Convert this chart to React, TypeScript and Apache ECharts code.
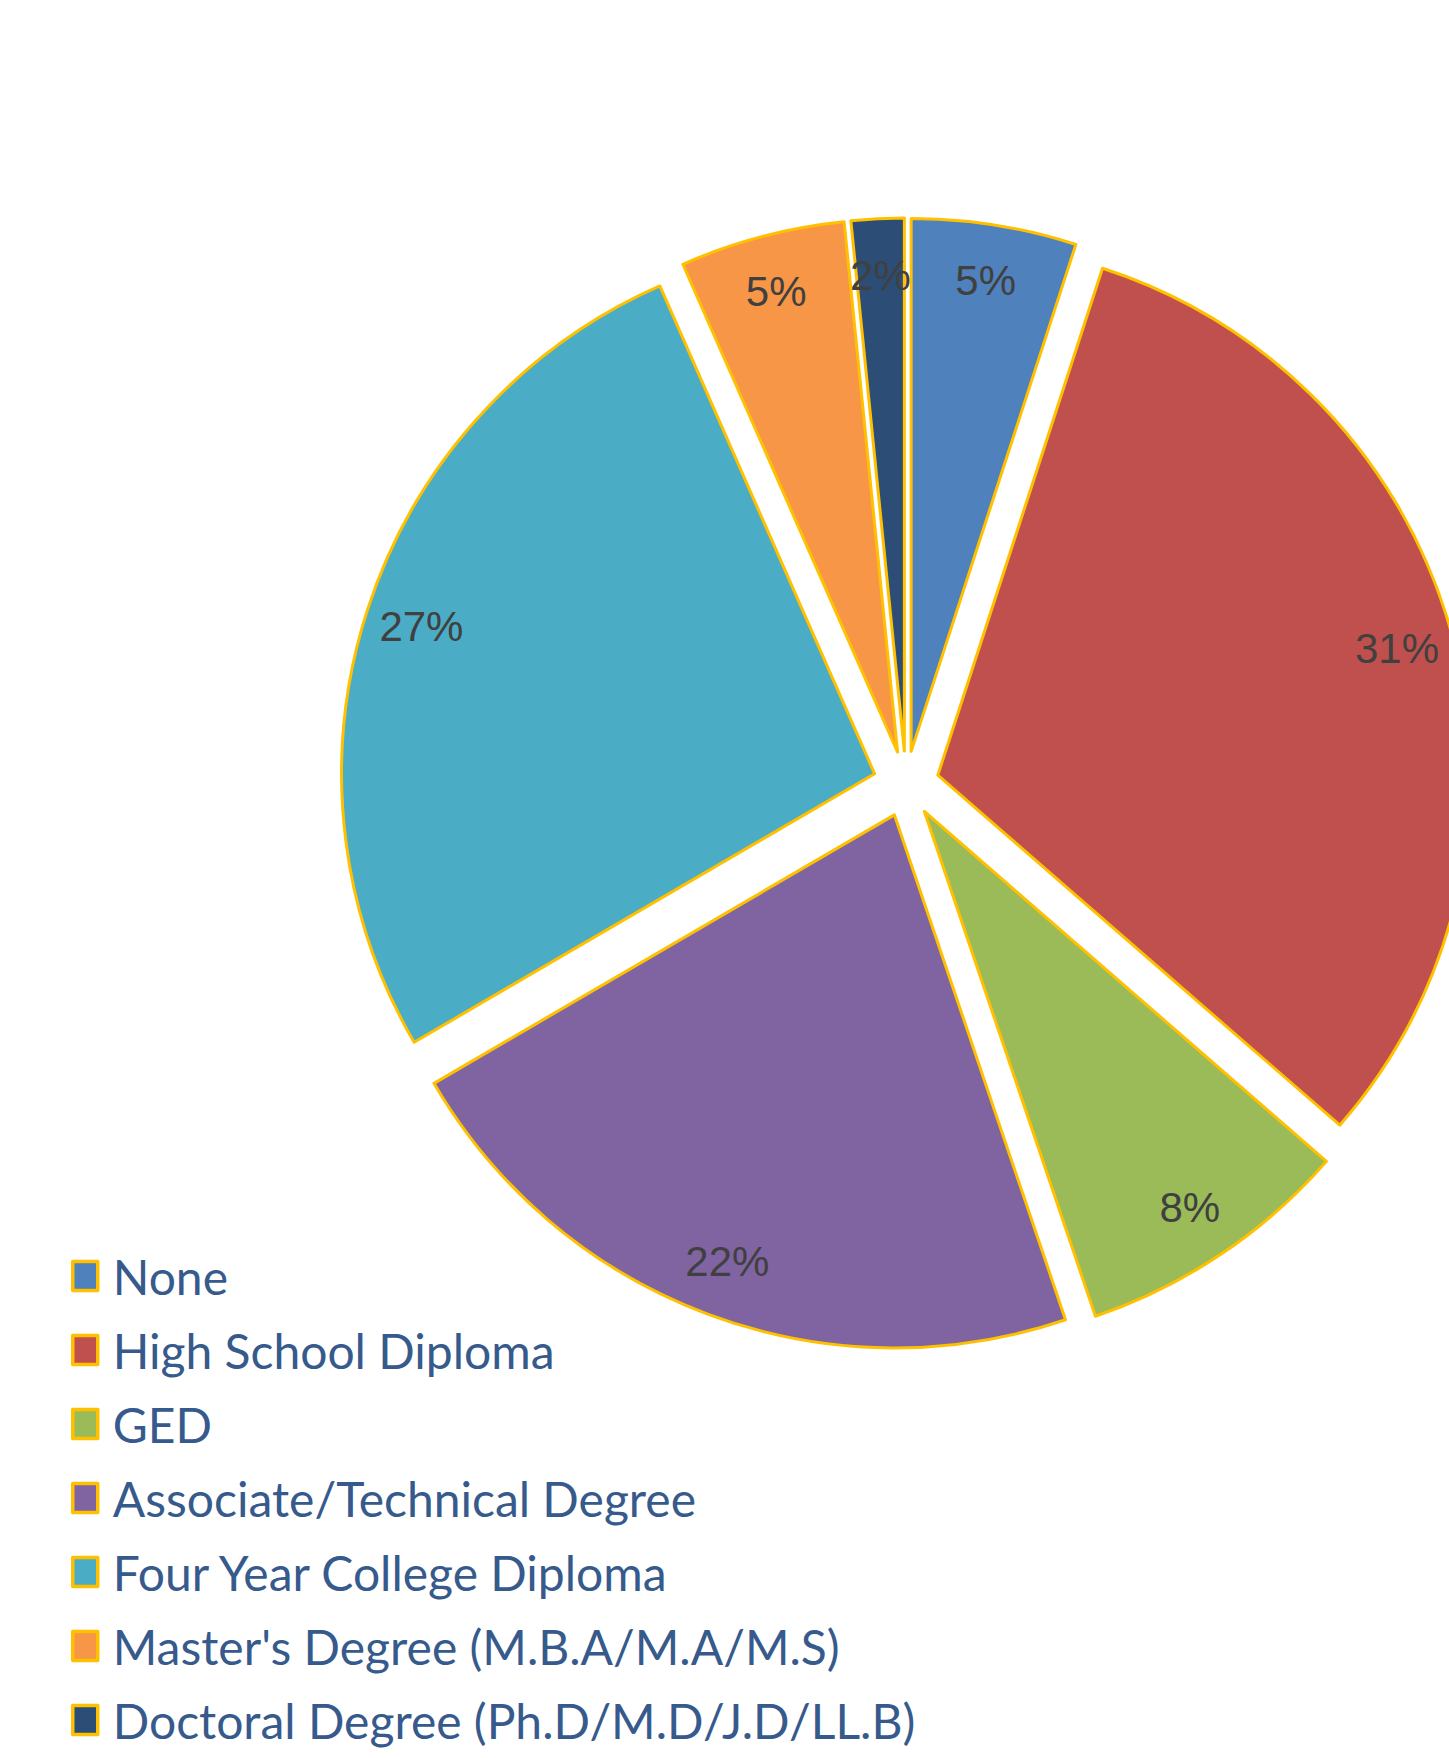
import React, { useEffect, useRef } from "react";
import * as echarts from "echarts";

const categories = [
  "None",
  "High School Diploma",
  "GED",
  "Associate/Technical Degree",
  "Four Year College Diploma",
  "Master's Degree (M.B.A/M.A/M.S)",
  "Doctoral Degree (Ph.D/M.D/J.D/LL.B)",
];
const values = [5.0, 31.4, 8.4, 21.8, 26.8, 5.0, 1.6];
const colors = ["#4F81BD", "#C0504D", "#9BBB59", "#8064A2", "#4BACC6", "#F79646", "#2C4D75"];

const BORDER = "#FFC000";

export default function App() {
  const ref = useRef<HTMLDivElement>(null);
  useEffect(() => {
    if (!ref.current) return;
    const chart = echarts.init(ref.current, undefined, { renderer: "svg" });
    const mainData = categories.map((name, i) => ({
      name,
      value: values[i],
      selected: true,
      itemStyle: { color: colors[i] },
    }));
    const labelData = categories.map((name, i) => ({
      name,
      value: values[i],
      selected: true,
    }));
    chart.setOption({
      animation: false,
      backgroundColor: "#ffffff",
      legend: {
        orient: "vertical",
        left: 66,
        top: 1246,
        data: categories,
        itemWidth: 25,
        itemHeight: 29,
        itemGap: 24,
        icon: "rect",
        selectedMode: false,
        itemStyle: { borderColor: BORDER, borderWidth: 3.5 },
        textStyle: {
          fontFamily: "Lato",
          fontSize: 48,
          lineHeight: 50,
          color: "#375A8C",
          padding: [0, 0, 0, 10],
        },
      },
      series: [
        {
          type: "pie",
          center: [906, 784],
          radius: [0, 533],
          startAngle: 90,
          clockwise: true,
          selectedMode: "multiple",
          selectedOffset: 33,
          emphasis: { disabled: true },
          label: { show: false },
          labelLine: { show: false },
          itemStyle: { borderColor: BORDER, borderWidth: 3 },
          select: { itemStyle: { borderColor: BORDER, borderWidth: 3 } },
          data: mainData,
        },
        {
          type: "pie",
          center: [906, 784],
          radius: [414, 533],
          startAngle: 90,
          clockwise: true,
          selectedMode: "multiple",
          selectedOffset: 33,
          silent: true,
          emphasis: { disabled: true },
          itemStyle: { color: "rgba(0,0,0,0)", borderWidth: 0 },
          select: { itemStyle: { color: "rgba(0,0,0,0)", borderWidth: 0 } },
          label: {
            show: true,
            position: "inside",
            formatter: (p: any) => Math.round(p.percent) + "%",
            fontFamily: "Liberation Sans",
            fontSize: 42,
            color: "#404040",
          },
          labelLine: { show: false },
          data: labelData,
        },
      ],
    });
    return () => chart.dispose();
  }, []);
  return (
    <div
      ref={ref}
      style={{ position: "absolute", left: 0, top: 0, width: 1449, height: 1758 }}
    />
  );
}
